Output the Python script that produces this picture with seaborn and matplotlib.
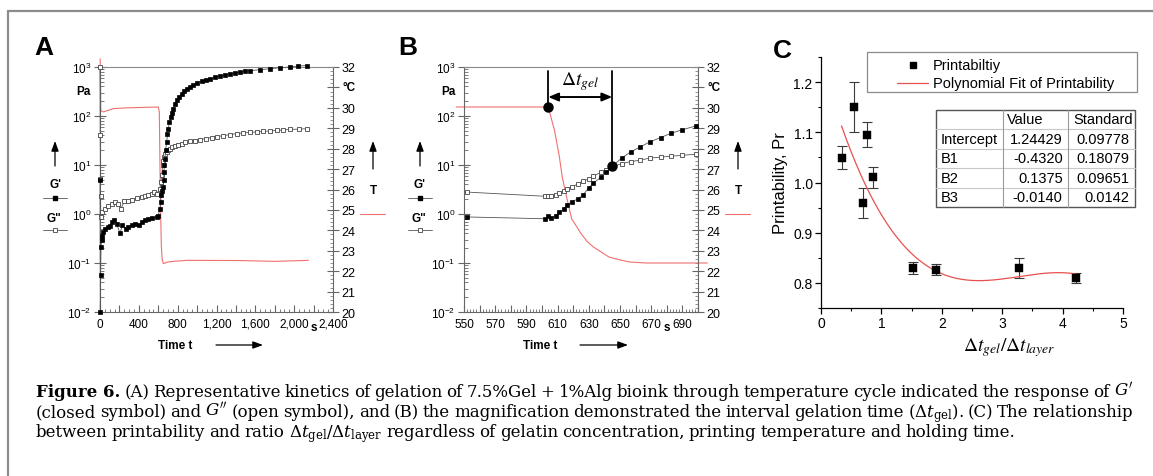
import numpy as np
import matplotlib
matplotlib.use("Agg")
import matplotlib.pyplot as plt
import seaborn as sns
from matplotlib.lines import Line2D
from matplotlib.patches import Rectangle, FancyArrowPatch
from matplotlib.ticker import FixedLocator, LogLocator, MultipleLocator, NullFormatter

W, H = 1153, 477

# ---------------- data ----------------
# panel A: full temperature cycle
A_gp_t = [0, 3, 6, 10, 17, 24, 34, 51, 79, 103, 127, 147, 172, 206, 230, 265, 292, 326,
          360, 402, 429, 463, 498, 532, 583, 600, 618, 624, 631, 640, 652, 655, 659, 663,
          669, 675, 687, 695, 704, 715, 728, 740, 755, 770, 790, 815, 841, 865, 893, 925,
          961, 1000, 1047, 1090, 1133, 1185, 1236, 1290, 1339, 1390, 1442, 1495, 1545,
          1648, 1751, 1854, 1957, 2043, 2136]
A_gp = [4.9, 0.010, 0.056, 0.21, 0.29, 0.36, 0.43, 0.50, 0.54, 0.57, 0.69, 0.74, 0.63,
        0.40, 0.59, 0.50, 0.54, 0.59, 0.63, 0.60, 0.69, 0.74, 0.79, 0.83, 0.87, 0.93,
        1.29, 1.76, 2.4, 2.9, 3.5, 5.0, 7.2, 10.0, 13.5, 20, 29.5, 42, 55, 74, 95, 117,
        141, 174, 209, 245, 285, 324, 363, 398, 437, 479, 513, 550, 575, 617, 661, 692,
        724, 759, 794, 813, 841, 881, 923, 966, 1000, 1047, 1072]
A_gpp_t = [0, 2, 4, 6, 8, 24, 51, 86, 120, 154, 189, 216, 251, 292, 333, 377, 429, 463,
           498, 532, 559, 583, 618, 628, 635, 645, 652, 659, 672, 687, 705, 721, 745, 773,
           805, 841, 880, 927, 975, 1030, 1090, 1150, 1210, 1270, 1340, 1408, 1476, 1545,
           1613, 1682, 1751, 1820, 1888, 1957, 2046, 2136]
A_gpp = [1000, 40, 5.2, 2.3, 0.87, 1.10, 1.29, 1.45, 1.62, 1.76, 1.62, 1.29, 1.82, 1.82,
         1.91, 2.14, 2.24, 2.34, 2.45, 2.6, 2.8, 2.6, 3.3, 4.5, 6.2, 9.8, 12.3, 14.5, 17,
         18.6, 20.4, 21.4, 23, 24.5, 25.7, 26.9, 28.8, 30.2, 31.6, 33.1, 34.7, 36.3, 38.0,
         39.8, 41.7, 43.7, 45.2, 46.2, 47.3, 48.4, 49.6, 50.7, 52, 53.1, 54, 55]
A_T_t = [2, 8, 34, 137, 275, 600, 611, 622, 632, 640, 652, 700, 755, 893, 1442, 1800, 2146]
A_T = [32.4, 29.87, 29.8, 29.96, 30.0, 30.04, 29.8, 25.5, 23.2, 22.6, 22.37, 22.45, 22.48,
       22.53, 22.52, 22.48, 22.53]

# panel B: magnification around the cooling step
B_t = [552, 602, 604, 606, 609, 611, 614, 616, 619, 623, 626, 630, 633, 638, 641, 645,
       651, 657, 663, 669, 676, 683, 690, 699]
B_gp = [0.87, 0.80, 0.89, 0.83, 0.93, 1.10, 1.26, 1.55, 1.76, 2.04, 2.4, 3.4, 4.3, 5.7,
        7.2, 9.3, 13.8, 18.6, 23.4, 29.5, 36.3, 44.7, 52.5, 63.1]
B_gpp = [2.8, 2.3, 2.3, 2.34, 2.5, 2.7, 2.95, 3.3, 3.55, 4.1, 4.7, 5.2, 6.0, 7.1, 7.9, 9.1,
         10.7, 11.7, 12.6, 13.8, 14.5, 15.1, 15.8, 16.6]
B_T_t = [545, 604, 608, 611, 613, 616, 619, 625, 629, 633, 643, 650, 656, 667, 706]
B_T = [30.04, 30.04, 28.9, 27.67, 26.6, 25.55, 24.57, 23.84, 23.45, 23.18, 22.69, 22.55,
       22.45, 22.40, 22.40]
B_gel_start = (604, 153)
B_gel_end = (645, 9.4)

# panel C: printability vs ratio
C_ratio = [0.34, 0.546, 0.755, 0.695, 0.854, 1.53, 1.90, 3.28, 4.22]
C_pr = [1.049, 1.150, 1.095, 0.960, 1.010, 0.829, 0.826, 0.830, 0.810]
C_err = [0.023, 0.050, 0.025, 0.030, 0.020, 0.012, 0.011, 0.020, 0.010]
fit_names = ["Intercept", "B1", "B2", "B3"]
fit_value = [1.24429, -0.4320, 0.1375, -0.0140]
fit_value_txt = ["1.24429", "-0.4320", "0.1375", "-0.0140"]
fit_std_txt = ["0.09778", "0.18079", "0.09651", "0.0142"]

caption = [
    "Figure 6. (A) Representative kinetics of gelation of 7.5%Gel + 1%Alg bioink through "
    "temperature cycle indicated the response of $G'$",
    "(closed symbol) and $G''$ (open symbol), and (B) the magnification demonstrated the "
    "interval gelation time (${\\Delta}t_\\mathrm{gel}$). (C) The relationship",
    "between printability and ratio ${\\Delta}t_\\mathrm{gel}/{\\Delta}t_\\mathrm{layer}$ "
    "regardless of gelatin concentration, printing temperature and holding time.",
]

# ---------------- style ----------------
sns.set_theme(style="ticks")
plt.rcParams["font.family"] = ["Liberation Sans", "DejaVu Sans"]
plt.rcParams["mathtext.fontset"] = "custom"
plt.rcParams["mathtext.rm"] = "Liberation Sans"
plt.rcParams["mathtext.it"] = "Liberation Sans:italic"
plt.rcParams["mathtext.bf"] = "Liberation Sans:bold"
for key in ["text.color", "axes.labelcolor", "xtick.labelcolor", "ytick.labelcolor"]:
    plt.rcParams[key] = "black"

RED = "#f07070"
AX_GREY = "#666666"
LINE_GREY = "#555555"

fig = plt.figure(figsize=(W / 100, H / 100), dpi=100)


def px(x, y):
    return x / W, 1 - y / H


def rect(x0, y0, x1, y1):
    return [x0 / W, 1 - y1 / H, (x1 - x0) / W, (y1 - y0) / H]


def ftext(x, y, s, **kw):
    fx, fy = px(x, y)
    return fig.text(fx, fy, s, **kw)


def fline(xs, ys, **kw):
    fig.add_artist(Line2D([x / W for x in xs], [1 - y / H for y in ys],
                          transform=fig.transFigure, **kw))


def farrow(x0, y0, x1, y1, style="-|>,head_length=0.6,head_width=0.22", lw=0.9):
    fig.add_artist(FancyArrowPatch(px(x0, y0), px(x1, y1), transform=fig.transFigure,
                                   arrowstyle=style, mutation_scale=10, lw=lw,
                                   color="black", shrinkA=0, shrinkB=0))


# frame of the page
fline([8, W], [12, 12], color="#8c8c8c", lw=1.6)
fline([8, 8], [12, H], color="#8c8c8c", lw=1.6)


def rheo_panel(x0, x1, t_gp, gp, t_gpp, gpp, t_T, T, xlim, xmajor, xlabels, xminor, s_pos):
    ax = fig.add_axes(rect(x0, 68, x1, 313))
    ax.set_yscale("log")
    sns.lineplot(x=t_gpp, y=gpp, ax=ax, sort=False, estimator=None, color=LINE_GREY,
                 lw=0.6, marker="s", markersize=3.2, markerfacecolor="white",
                 markeredgecolor="#444444", markeredgewidth=0.6, clip_on=False, zorder=3)
    sns.lineplot(x=t_gp, y=gp, ax=ax, sort=False, estimator=None, color=LINE_GREY,
                 lw=0.6, marker="s", markersize=3.0, markerfacecolor="black",
                 markeredgecolor="black", markeredgewidth=0.5, clip_on=False, zorder=4)
    ax.set_xlim(*xlim)
    ax.set_ylim(1e-2, 1e3)
    ax.set_xlabel("")
    ax.set_ylabel("")

    ax.yaxis.set_major_locator(FixedLocator([1e-2, 1e-1, 1, 10, 100, 1000]))
    ax.set_yticklabels(["$10^{-2}$", "$10^{-1}$", "$10^{0}$", "$10^{1}$", "$10^{2}$", "$10^{3}$"])
    ax.yaxis.set_minor_locator(LogLocator(base=10, subs=np.arange(2, 10)))
    ax.yaxis.set_minor_formatter(NullFormatter())
    ax.tick_params(axis="y", which="major", direction="inout", length=8, width=0.8,
                   color=AX_GREY, labelsize=8.5, pad=2, left=True, right=False)
    ax.tick_params(axis="y", which="minor", direction="in", length=3, width=0.6,
                   color=AX_GREY, left=True, right=False)

    ax.set_xticks(xmajor)
    ax.set_xticklabels(xlabels)
    ax.xaxis.set_minor_locator(MultipleLocator(xminor))
    ax.tick_params(axis="x", which="major", direction="in", length=5, width=0.8,
                   color=AX_GREY, labelsize=8.5, pad=4, bottom=True, top=False)
    ax.tick_params(axis="x", which="minor", direction="in", length=2.5, width=0.6,
                   color=AX_GREY, bottom=True, top=False)
    ax.text(s_pos, -0.062, "s", transform=ax.get_xaxis_transform(), ha="center",
            va="center", fontsize=8.5, weight="bold")

    for side in ["left", "bottom"]:
        ax.spines[side].set_color(AX_GREY)
        ax.spines[side].set_linewidth(0.8)
    ax.spines["top"].set_color("#8a8a8a")
    ax.spines["top"].set_linewidth(0.8)
    ax.spines["right"].set_visible(False)
    ax.grid(False)

    ax2 = ax.twinx()
    sns.lineplot(x=t_T, y=T, ax=ax2, sort=False, estimator=None, color=RED, lw=0.8,
                 clip_on=False, zorder=2)
    ax2.set_ylim(20, 32)
    ax2.set_ylabel("")
    ax2.set_yticks(range(20, 33))
    ax2.set_yticklabels([str(v) if v != 31 else "" for v in range(20, 33)])
    ax2.yaxis.set_minor_locator(MultipleLocator(0.2))
    ax2.tick_params(axis="y", which="major", direction="inout", length=8, width=0.8,
                    color=AX_GREY, labelsize=9, pad=2, right=True, left=False)
    ax2.tick_params(axis="y", which="minor", direction="in", length=2.5, width=0.5,
                    color=AX_GREY, right=True, left=False)
    for side in ["left", "top", "bottom"]:
        ax2.spines[side].set_visible(False)
    ax2.spines["right"].set_color(AX_GREY)
    ax2.spines["right"].set_linewidth(0.8)
    ax2.grid(False)
    # moduli above the temperature trace
    ax.set_zorder(ax2.get_zorder() + 1)
    ax.patch.set_visible(False)
    return ax, ax2


def side_items(xl, xr):
    # left: Pa, arrow, G' and G'' keys
    ftext(xl + 28, 92, "Pa", fontsize=8.5, weight="bold", ha="center", va="center")
    farrow(xl, 167, xl, 142)
    ftext(xl, 185, "G'", fontsize=8.5, weight="bold", ha="center", va="center")
    fline([xl - 12, xl, xl + 12], [199, 199, 199], color=LINE_GREY, lw=0.6, marker="s",
          markevery=[1], markersize=3, markerfacecolor="black", markeredgecolor="black")
    ftext(xl - 1, 219, 'G"', fontsize=8.5, weight="bold", ha="center", va="center")
    fline([xl - 12, xl, xl + 12], [231, 231, 231], color=LINE_GREY, lw=0.6, marker="s",
          markevery=[1], markersize=3.2, markerfacecolor="white", markeredgecolor="#444444",
          markeredgewidth=0.6)
    # right: arrow and T key
    farrow(xr, 170, xr, 142)
    ftext(xr, 191, "T", fontsize=8.5, weight="bold", ha="center", va="center")
    fline([xr - 13, xr + 12], [215, 215], color=RED, lw=0.8)


# panel A
axA, axA2 = rheo_panel(100, 333, A_gp_t, A_gp, A_gpp_t, A_gpp, A_T_t, A_T, (0, 2400),
                       list(range(0, 2401, 200)),
                       ["0", "", "400", "", "800", "", "1,200", "", "1,600", "", "2,000", "", "2,400"],
                       50, 2200)
side_items(55, 373)
ftext(349, 88.5, "°C", fontsize=8.5, weight="bold", ha="center", va="center")
ftext(175, 346, "Time t", fontsize=8.5, weight="bold", ha="center", va="center")
farrow(216, 346, 263, 346)
ftext(44, 48, "A", fontsize=19, weight="bold", ha="center", va="center")

# panel B
axB, axB2 = rheo_panel(464, 698, B_t, B_gp, B_t, B_gpp, B_T_t, B_T, (550, 700),
                       list(range(550, 701, 10)),
                       [str(v) if (v - 550) % 20 == 0 else "" for v in range(550, 701, 10)],
                       2, 680)
side_items(420, 738)
ftext(714, 88.5, "°C", fontsize=8.5, weight="bold", ha="center", va="center")
ftext(540, 346, "Time t", fontsize=8.5, weight="bold", ha="center", va="center")
farrow(580, 346, 628, 346)
ftext(408, 48, "B", fontsize=19, weight="bold", ha="center", va="center")

gx = [B_gel_start[0], B_gel_end[0]]
gy = [B_gel_start[1], B_gel_end[1]]
for xx, yy in zip(gx, gy):
    axB.plot([xx, xx], [yy, 813], color="black", lw=1.3, zorder=6)
axB.plot(gx, gy, "o", color="black", markersize=6.5, zorder=7, clip_on=False)
axB.annotate("", xy=(gx[1], 244), xytext=(gx[0], 244),
             arrowprops=dict(arrowstyle="<|-|>,head_length=0.6,head_width=0.25",
                             mutation_scale=10, lw=1.4, color="black",
                             shrinkA=0, shrinkB=0), zorder=7)
axB.text(624.5, 520, r"$\Delta t_{gel}$", fontsize=14, ha="center", va="center",
         math_fontfamily="stix")

# panel C
axC = fig.add_axes(rect(821, 58, 1123, 309))
axC.errorbar(C_ratio, C_pr, yerr=C_err, fmt="none", ecolor="#3a3a3a", elinewidth=0.8,
             capsize=3.5, capthick=0.8, zorder=2)
sns.scatterplot(x=C_ratio, y=C_pr, ax=axC, marker="s", color="black", s=26,
                edgecolor="black", linewidth=0.3, zorder=3)
fit_x = np.linspace(min(C_ratio), max(C_ratio), 200)
fit_y = fit_value[0] + fit_value[1] * fit_x + fit_value[2] * fit_x ** 2 + fit_value[3] * fit_x ** 3
sns.lineplot(x=fit_x, y=fit_y, ax=axC, color="#e85050", lw=0.9, zorder=2)
axC.set_xlim(0, 5)
axC.set_ylim(0.75, 1.25)
axC.set_xticks(range(0, 6))
axC.set_yticks([0.8, 0.9, 1.0, 1.1, 1.2])
axC.set_yticklabels(["0.8", "0.9", "1.0", "1.1", "1.2"])
axC.xaxis.set_minor_locator(MultipleLocator(0.5))
axC.yaxis.set_minor_locator(MultipleLocator(0.05))
axC.tick_params(which="major", direction="out", length=4, width=0.9, color="black",
                labelsize=10, pad=2)
axC.tick_params(which="minor", direction="out", length=2.5, width=0.8, color="black")
sns.despine(ax=axC)
for side in ["left", "bottom"]:
    axC.spines[side].set_color("black")
    axC.spines[side].set_linewidth(0.9)
axC.set_ylabel("Printability, Pr", fontsize=12, labelpad=4)
axC.set_xlabel(r"$\Delta t_{gel}/\Delta t_{layer}$", fontsize=14, math_fontfamily="stix")
axC.xaxis.label.set_va("center")
axC.xaxis.set_label_coords((1009 - 821) / 302, (309 - 348) / 251)
axC.grid(False)
ftext(782, 51, "C", fontsize=19, weight="bold", ha="center", va="center")

# legend box of C
fig.add_artist(Rectangle(px(867, 93), 270 / W, 40 / H, transform=fig.transFigure,
                         fill=False, edgecolor="#8a8a8a", lw=0.9))
fline([913], [66], marker="s", color="black", markersize=4.5, lw=0)
ftext(933, 66, "Printabiltiy", fontsize=10.5, ha="left", va="center")
fline([897, 928], [84, 84], color="#e85050", lw=0.9)
ftext(933, 84, "Polynomial Fit of Printability", fontsize=10.5, ha="left", va="center")

# fit table of C
tx = [936, 1002.5, 1068.3, 1135]
ty = [110.7, 130.2, 149.7, 169.2, 188.7, 208.3]
for yy in ty[1:-1]:
    fline([tx[0], tx[-1]], [yy, yy], color="#c8c8c8", lw=0.8)
for xx in tx[1:-1]:
    fline([xx, xx], [ty[0], ty[-1]], color="#9a9a9a", lw=0.8)
fig.add_artist(Rectangle(px(tx[0], ty[-1]), (tx[-1] - tx[0]) / W, (ty[-1] - ty[0]) / H,
                         transform=fig.transFigure, fill=False, edgecolor="#555555", lw=1.0))
rc = [(ty[i] + ty[i + 1]) / 2 for i in range(5)]
ftext(1006.7, rc[0], "Value", fontsize=10.5, ha="left", va="center")
ftext(1073.3, rc[0], "Standard", fontsize=10.5, ha="left", va="center")
for i in range(4):
    ftext(941, rc[i + 1], fit_names[i], fontsize=10.5, ha="left", va="center")
    ftext(1062.7, rc[i + 1], fit_value_txt[i], fontsize=10.5, ha="right", va="center")
    ftext(1129.3, rc[i + 1], fit_std_txt[i], fontsize=10.5, ha="right", va="center")

# caption, justified like the journal page
CAP_FS = 12.0
renderer = fig.canvas.get_renderer()
cap_y = [397, 417, 437]
for li, line in enumerate(caption):
    words = line.split(" ")
    if li == 0:
        words = [" ".join(words[:2])] + words[2:]
    objs = []
    for wi, w in enumerate(words):
        bold = li == 0 and wi == 0
        objs.append(ftext(0, cap_y[li], w, fontsize=CAP_FS, color="black",
                          family=["DejaVu Serif"], math_fontfamily="dejavuserif",
                          weight="bold" if bold else "normal", ha="left", va="baseline"))
    widths = [o.get_window_extent(renderer).width for o in objs]
    if li < 2:
        gap = (1133 - 36 - sum(widths)) / (len(words) - 1)
    else:
        gap = CAP_FS * 100 / 72 * 0.25
    xx = 36
    for o, wd in zip(objs, widths):
        o.set_x(xx / W)
        xx += wd + gap

fig.savefig("out.png", dpi=100)
